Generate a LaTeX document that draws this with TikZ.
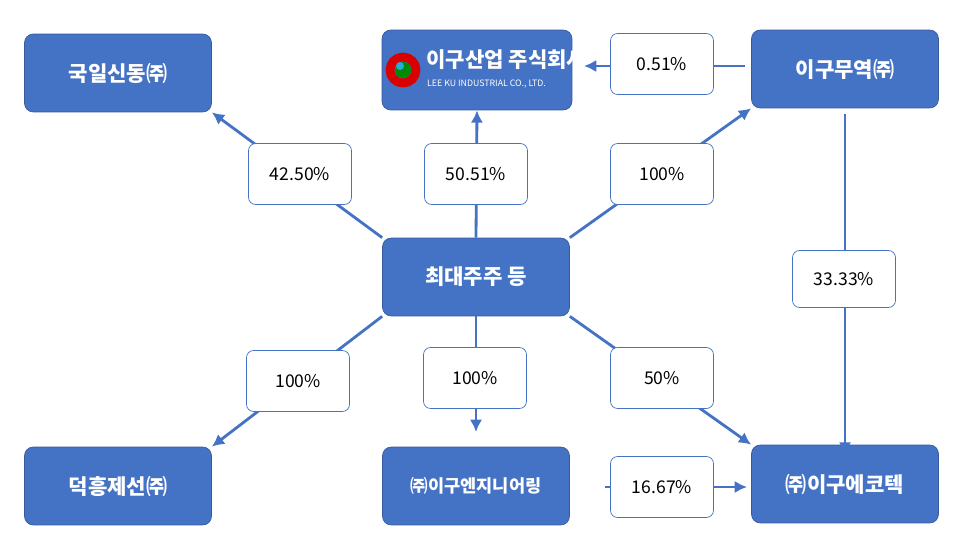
\documentclass[tikz,border=0pt]{standalone}
\usepackage{fontspec}
\setmainfont{Noto Sans CJK KR}
\usetikzlibrary{arrows.meta}
\definecolor{boxblue}{HTML}{4472C4}
\tikzset{
	firm/.style={draw=boxblue!80!black,fill=boxblue,rounded corners=5pt,minimum width=3.74cm,minimum height=1.56cm,text=white,font=\bfseries\large},
	share/.style={draw=boxblue,fill=white,rounded corners=4pt,minimum width=2.06cm,minimum height=1.22cm,font=\normalsize},
	link/.style={boxblue,line width=1.6pt,-{Latex[length=7pt,width=7pt]}}
}
\begin{document}
\begin{tikzpicture}[x=0.02cm,y=-0.02cm]
		\useasboundingbox (0,0) rectangle (967,551);
		% companies
		\node[firm] (kukil) at (118,73) {국일신동㈜};
		\node[firm,minimum width=3.8cm,minimum height=1.6cm] (leeku) at (477,70) {};
		\node[firm] (trade) at (845,69) {이구무역㈜};
		\node[firm] (major) at (476,277) {최대주주 등};
		\node[firm] (deok) at (118,486) {덕흥제선㈜};
		\node[firm,font=\bfseries\normalsize] (eng) at (476,486) {㈜이구엔지니어링};
		\node[firm] (eco) at (845,484) {㈜이구에코텍};
		% logo in the box
		\draw[red!85!black,line width=5pt] (403,70) circle (13);
		\fill[green!55!black] (403,70) circle (8);
		\fill[boxblue!60!cyan] (400,66) circle (4);
		\node[text=white,font=\bfseries\large,anchor=west] (leekuname) at (420,60) {이구산업 주식회사};
		\node[text=white,font=\tiny,anchor=west] (leekueng) at (421,84) {LEE KU INDUSTRIAL CO., LTD.};
		% connectors
		\coordinate (engend) at (476,432);
		\coordinate (engout) at (605,487);
		\coordinate (ecoin) at (747,487);
		\coordinate (tradeout) at (745,66);
		\coordinate (leekuin) at (584,66);
		\draw[link] (major.north west) -- (kukil.south east);
		\draw[link] (major.north) -- (leeku.south);
		\draw[link] (major.north east) -- (trade.south west);
		\draw[link] (major.south west) -- (deok.north east);
		\draw[link] (major.south) -- (engend);
		\draw[link] (major.south east) -- (eco.north west);
		\draw[link] (engout) -- (ecoin);
		\draw[link] (tradeout) -- (leekuin);
		\draw[link] (trade.south) ++(0,6) -- ([yshift=-0.2cm]eco.north);
		% shares
		\node[share] (s1) at (300,174) {42.50\%};
		\node[share] (s2) at (476,174) {50.51\%};
		\node[share] (s3) at (662,174) {100\%};
		\node[share] (s4) at (662,64) {0.51\%};
		\node[share,minimum height=1.14cm] (s5) at (844,279) {33.33\%};
		\node[share] (s6) at (298,381) {100\%};
		\node[share] (s7) at (475,378) {100\%};
		\node[share] (s8) at (662,378) {50\%};
		\node[share] (s9) at (662,487) {16.67\%};
	\end{tikzpicture}
\end{document}
